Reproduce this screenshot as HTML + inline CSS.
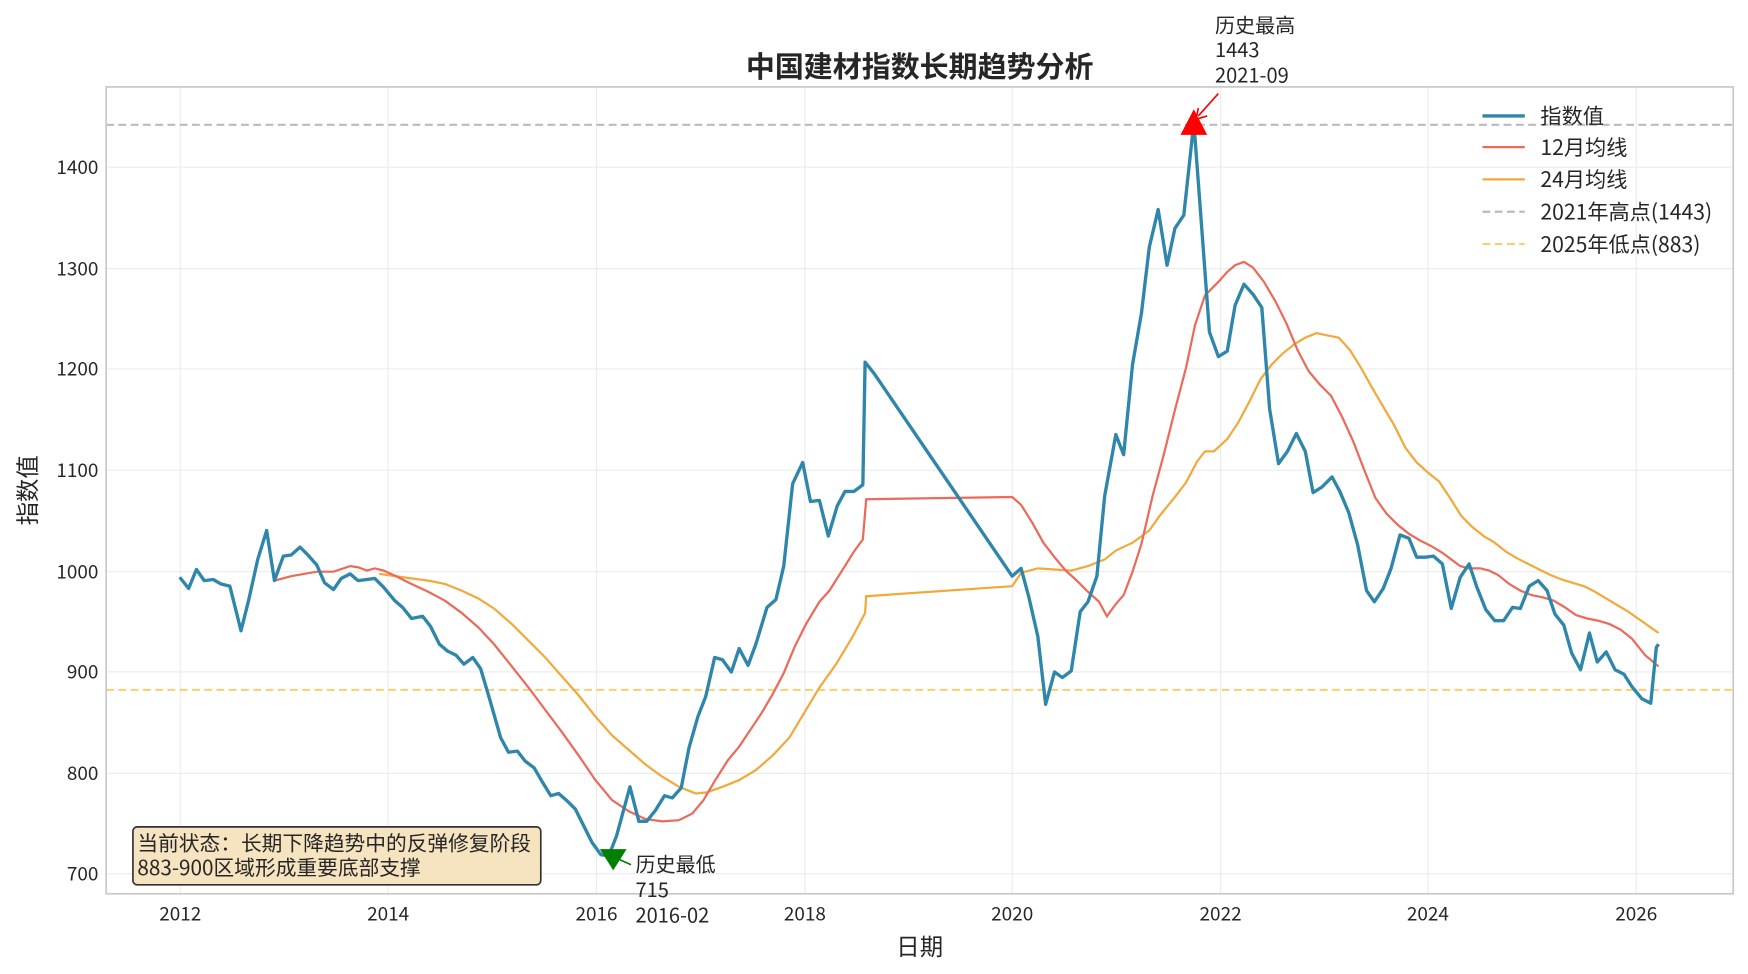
<!DOCTYPE html>
<html><head><meta charset="utf-8"><style>
html,body{margin:0;padding:0;background:#fff}
svg{display:block}
text{font-family:"Noto Sans CJK SC","Liberation Sans",sans-serif;fill:#262626}
</style></head><body>
<svg width="1748" height="974" viewBox="0 0 1568 874" xmlns="http://www.w3.org/2000/svg">
<rect width="1568" height="874" fill="#fff"/>
<g stroke="#ebebeb" stroke-width="1">
<line x1="161.5" y1="78" x2="161.5" y2="802"/><line x1="348" y1="78" x2="348" y2="802"/><line x1="535" y1="78" x2="535" y2="802"/><line x1="722" y1="78" x2="722" y2="802"/><line x1="908" y1="78" x2="908" y2="802"/><line x1="1095" y1="78" x2="1095" y2="802"/><line x1="1281" y1="78" x2="1281" y2="802"/><line x1="1468" y1="78" x2="1468" y2="802"/>
<line x1="95" y1="150" x2="1555" y2="150"/><line x1="95" y1="241" x2="1555" y2="241"/><line x1="95" y1="331" x2="1555" y2="331"/><line x1="95" y1="422" x2="1555" y2="422"/><line x1="95" y1="513" x2="1555" y2="513"/><line x1="95" y1="603" x2="1555" y2="603"/><line x1="95" y1="694" x2="1555" y2="694"/><line x1="95" y1="784" x2="1555" y2="784"/>
</g>
<line x1="95" y1="112" x2="1555" y2="112" stroke="#bbb" stroke-width="1.8" stroke-dasharray="7,4"/>
<line x1="95" y1="619" x2="1555" y2="619" stroke="#f8cf6e" stroke-width="1.8" stroke-dasharray="7,4"/>
<polyline fill="none" stroke="#f2a93b" stroke-width="2" points="340,515 369,519 384,521 399,524 414,530 429,537 443,546 459,560 474,575 489,590 504,607 519,624 534,643 549,660 564,673 579,686 594,697 609,706 624,712 634,711 648,706 663,700 678,691 693,678 708,662 720,642 735,617 750,596 765,571 776,550 777,535 908,526 916,514 931,510 946,511 961,512 976,508 991,502 1001,494 1016,487 1031,476 1041,462 1054,446 1064,433 1074,414 1081,405 1089,405 1101,394 1111,379 1121,360 1131,340 1141,327 1151,317 1161,309 1171,303 1181,299 1191,301 1201,303 1211,314 1221,330 1231,348 1241,365 1251,382 1261,402 1271,415 1281,424 1291,432 1301,447 1311,463 1321,473 1331,481 1341,487 1351,495 1361,501 1371,506 1381,511 1391,516 1401,520 1411,523 1421,526 1431,531 1441,537 1451,543 1461,549 1471,556 1488,568"/>
<polyline fill="none" stroke="#ec6a5a" stroke-width="2" points="246,521 261,517 284,513 299,513 314,508 321,509 329,512 336,510 344,512 355,517 369,524 384,531 399,539 414,550 429,563 443,578 459,598 474,617 489,637 504,657 519,678 534,700 549,718 564,728 579,735 594,737 609,736 621,730 631,718 641,701 653,682 663,670 673,655 683,640 693,623 703,604 713,580 723,560 735,540 744,530 756,511 766,495 774,484 777,448 908,446 916,453 926,469 936,487 946,500 956,512 966,521 976,531 986,540 993,553 1001,542 1008,534 1016,513 1024,488 1034,445 1044,408 1054,368 1064,330 1072,292 1081,265 1093,253 1101,244 1108,238 1116,235 1124,240 1134,253 1144,270 1154,290 1164,314 1174,333 1184,345 1194,355 1204,374 1214,396 1224,422 1234,447 1244,461 1254,471 1264,479 1274,485 1284,490 1294,496 1302,502 1310,508 1318,510 1328,510 1336,512 1344,516 1354,524 1364,530 1374,534 1384,536 1394,539 1404,545 1414,552 1424,555 1434,557 1444,560 1454,565 1464,573 1476,588 1488,598"/>
<polyline fill="none" stroke="#2e86ab" stroke-width="3" stroke-linejoin="round" points="161,518 169,528 176,511 183,521 191,520 198,524 206,526 216,566 223,538 231,502 239,476 246,521 254,499 261,498 269,491 276,498 284,507 291,523 299,529 306,519 314,515 321,521 329,520 336,519 344,527 354,539 361,545 369,555 379,553 386,562 394,578 401,584 409,588 416,596 424,590 431,600 439,627 449,662 456,675 464,674 471,683 479,689 486,701 494,714 501,712 509,719 516,726 524,742 531,756 539,767 546,768 553,750 565,706 573,737 580,737 588,727 596,714 603,716 611,707 618,671 626,643 633,625 641,590 648,592 656,603 663,582 671,597 678,578 688,545 696,538 703,508 711,434 720,415 727,450 735,449 743,481 751,454 758,441 766,441 774,435 776,325 784,335 908,517 916,510 923,536 931,571 938,632 946,603 953,608 961,602 969,549 976,540 984,517 991,445 1001,390 1008,408 1016,327 1024,281 1031,222 1039,188 1047,238 1054,205 1062,193 1071,110 1077,190 1085,298 1093,320 1101,315 1108,274 1116,255 1124,264 1132,276 1139,367 1147,416 1155,405 1163,389 1171,405 1178,442 1186,437 1195,428 1202,441 1210,460 1218,489 1226,530 1233,540 1241,528 1248,510 1256,480 1264,483 1271,500 1279,500 1286,499 1294,506 1302,546 1310,518 1318,506 1325,527 1333,547 1341,557 1349,557 1357,545 1364,546 1372,526 1380,521 1388,530 1395,551 1403,561 1410,586 1418,601 1426,568 1433,594 1441,585 1449,601 1457,605 1464,616 1473,627 1481,631 1486,581 1488,578"/>
<polygon points="1071,98 1059,121 1083,121" fill="#ff0000"/>
<polygon points="550,781 538,762 562,762" fill="#008000"/>
<line x1="1093" y1="84" x2="1075" y2="104" stroke="#ff0000" stroke-width="1.5"/>
<polyline points="1075,97 1073,107 1083,104" fill="none" stroke="#ff0000" stroke-width="1.5"/>
<line x1="566" y1="776" x2="555" y2="771" stroke="#008000" stroke-width="1.5"/>
<rect x="95" y="78" width="1460" height="724" fill="none" stroke="#c8c8c8" stroke-width="1.5"/>
<g font-size="17" text-anchor="end">
<text x="88" y="156">1400</text><text x="88" y="247">1300</text><text x="88" y="337">1200</text><text x="88" y="428">1100</text><text x="88" y="519">1000</text><text x="88" y="609">900</text><text x="88" y="700">800</text><text x="88" y="790">700</text>
</g>
<g font-size="17" text-anchor="middle">
<text x="161.5" y="826">2012</text><text x="348" y="826">2014</text><text x="535" y="826">2016</text><text x="722" y="826">2018</text><text x="908" y="826">2020</text><text x="1095" y="826">2022</text><text x="1281" y="826">2024</text><text x="1468" y="826">2026</text>
</g>
<text x="825" y="857" font-size="21" text-anchor="middle">日期</text>
<text transform="translate(32,440) rotate(-90)" font-size="21" text-anchor="middle">指数值</text>
<text x="825" y="69" font-size="26" font-weight="bold" text-anchor="middle">中国建材指数长期趋势分析</text>
<g font-size="18"><text x="1090" y="29">历史最高</text><text x="1090" y="51">1443</text><text x="1090" y="74">2021-09</text>
<text x="570" y="782">历史最低</text><text x="570" y="805">715</text><text x="570" y="828">2016-02</text></g>
<rect x="119" y="742" width="366" height="52" rx="4" fill="#f6e3c0" stroke="#333" stroke-width="1.5"/>
<g font-size="18.6"><text x="123" y="763">当前状态：长期下降趋势中的反弹修复阶段</text><text x="123" y="785">883-900区域形成重要底部支撑</text></g>
<g font-size="19">
<line x1="1330" y1="104" x2="1368" y2="104" stroke="#2e86ab" stroke-width="3"/><text x="1382" y="111">指数值</text>
<line x1="1330" y1="132" x2="1368" y2="132" stroke="#ec6a5a" stroke-width="2"/><text x="1382" y="139">12月均线</text>
<line x1="1330" y1="161" x2="1368" y2="161" stroke="#f2a93b" stroke-width="2"/><text x="1382" y="168">24月均线</text>
<line x1="1330" y1="190" x2="1368" y2="190" stroke="#bbb" stroke-width="2" stroke-dasharray="7,4"/><text x="1382" y="197">2021年高点(1443)</text>
<line x1="1330" y1="219" x2="1368" y2="219" stroke="#f8cf6e" stroke-width="2" stroke-dasharray="7,4"/><text x="1382" y="226">2025年低点(883)</text>
</g>
</svg>
</body></html>
